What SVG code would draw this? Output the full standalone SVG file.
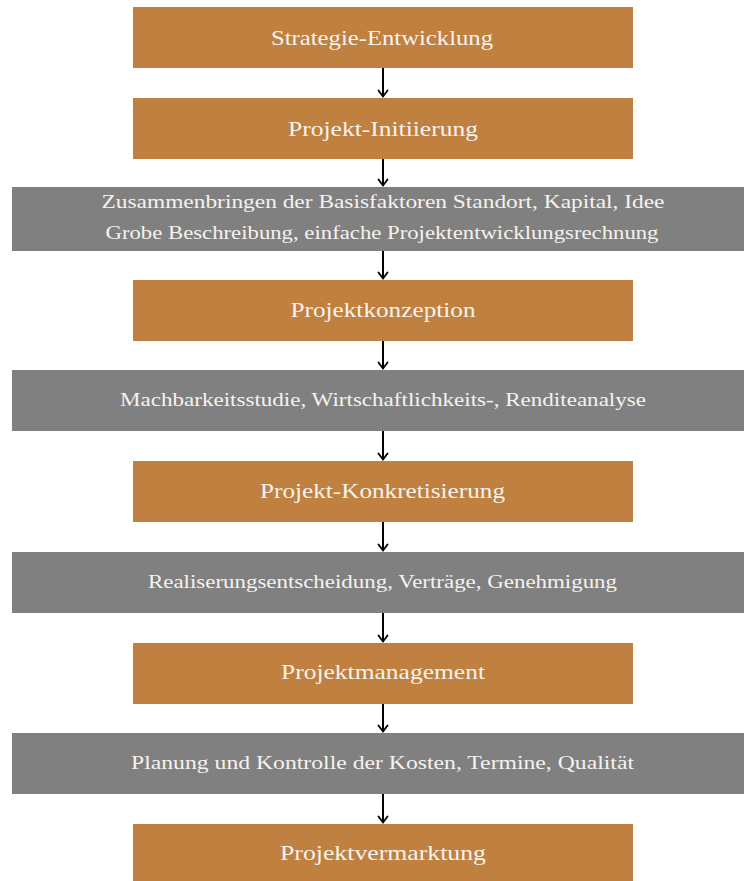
<svg xmlns="http://www.w3.org/2000/svg" width="744" height="881" viewBox="0 0 744 881">
  <style>
    .phase rect { fill: #BF8040; }
    .task rect { fill: #808080; }
    text { font-family: "Liberation Serif", "DejaVu Serif", serif; fill: #f6f2ee; text-anchor: middle; }
    .phase text { font-size: 22px; }
    .task text { font-size: 18px; }
    .edge { stroke: #000; stroke-width: 2; fill: none; }
  </style>
  <defs>
    <marker id="arrow" markerUnits="userSpaceOnUse" markerWidth="14" markerHeight="14" refX="0" refY="0" viewBox="-8 -7 10 14" orient="auto">
      <path d="M -6 -4.5 Q -1.5 -1.2 0 0 Q -1.5 1.2 -6 4.5" stroke="#000" stroke-width="1.8" fill="none" stroke-linecap="round"/>
    </marker>
  </defs>

  <rect width="744" height="881" fill="#ffffff"/>

  <g id="strategie" class="phase">
    <rect x="133" y="7" width="500" height="61"/>
    <text x="382" y="44.5" textLength="222" lengthAdjust="spacingAndGlyphs">Strategie-Entwicklung</text>
  </g>
  <g id="initiierung" class="phase">
    <rect x="133" y="98" width="500" height="61"/>
    <text x="383" y="135.5" textLength="190" lengthAdjust="spacingAndGlyphs">Projekt-Initiierung</text>
  </g>
  <g id="basisfaktoren" class="task">
    <rect x="12" y="187" width="742" height="64"/>
    <text x="383" y="208" textLength="563" lengthAdjust="spacingAndGlyphs">Zusammenbringen der Basisfaktoren Standort, Kapital, Idee</text>
    <text x="382" y="239" textLength="553" lengthAdjust="spacingAndGlyphs">Grobe Beschreibung, einfache Projektentwicklungsrechnung</text>
  </g>
  <g id="konzeption" class="phase">
    <rect x="133" y="280" width="500" height="61"/>
    <text x="383" y="316.5" textLength="185" lengthAdjust="spacingAndGlyphs">Projektkonzeption</text>
  </g>
  <g id="machbarkeit" class="task">
    <rect x="12" y="370" width="742" height="61"/>
    <text x="383" y="405.5" textLength="526" lengthAdjust="spacingAndGlyphs">Machbarkeitsstudie, Wirtschaftlichkeits-, Renditeanalyse</text>
  </g>
  <g id="konkretisierung" class="phase">
    <rect x="133" y="461" width="500" height="61"/>
    <text x="382.5" y="497.5" textLength="245" lengthAdjust="spacingAndGlyphs">Projekt-Konkretisierung</text>
  </g>
  <g id="realisierung" class="task">
    <rect x="12" y="552" width="742" height="61"/>
    <text x="382.5" y="587.5" textLength="469" lengthAdjust="spacingAndGlyphs">Realiserungsentscheidung, Verträge, Genehmigung</text>
  </g>
  <g id="management" class="phase">
    <rect x="133" y="643" width="500" height="61"/>
    <text x="383" y="679" textLength="204" lengthAdjust="spacingAndGlyphs">Projektmanagement</text>
  </g>
  <g id="kontrolle" class="task">
    <rect x="12" y="733" width="742" height="61"/>
    <text x="382.5" y="768.5" textLength="503" lengthAdjust="spacingAndGlyphs">Planung und Kontrolle der Kosten, Termine, Qualität</text>
  </g>
  <g id="vermarktung" class="phase">
    <rect x="133" y="824" width="500" height="61"/>
    <text x="383" y="860" textLength="206" lengthAdjust="spacingAndGlyphs">Projektvermarktung</text>
  </g>

  <g id="connectors">
    <line class="edge" x1="383" y1="68" x2="383" y2="96.5" marker-end="url(#arrow)"/>
    <line class="edge" x1="383" y1="159" x2="383" y2="185.5" marker-end="url(#arrow)"/>
    <line class="edge" x1="383" y1="251" x2="383" y2="278.5" marker-end="url(#arrow)"/>
    <line class="edge" x1="383" y1="341" x2="383" y2="368.5" marker-end="url(#arrow)"/>
    <line class="edge" x1="383" y1="431" x2="383" y2="459.5" marker-end="url(#arrow)"/>
    <line class="edge" x1="383" y1="522" x2="383" y2="550.5" marker-end="url(#arrow)"/>
    <line class="edge" x1="383" y1="613" x2="383" y2="641.5" marker-end="url(#arrow)"/>
    <line class="edge" x1="383" y1="704" x2="383" y2="731.5" marker-end="url(#arrow)"/>
    <line class="edge" x1="383" y1="794" x2="383" y2="822.5" marker-end="url(#arrow)"/>
  </g>
</svg>
